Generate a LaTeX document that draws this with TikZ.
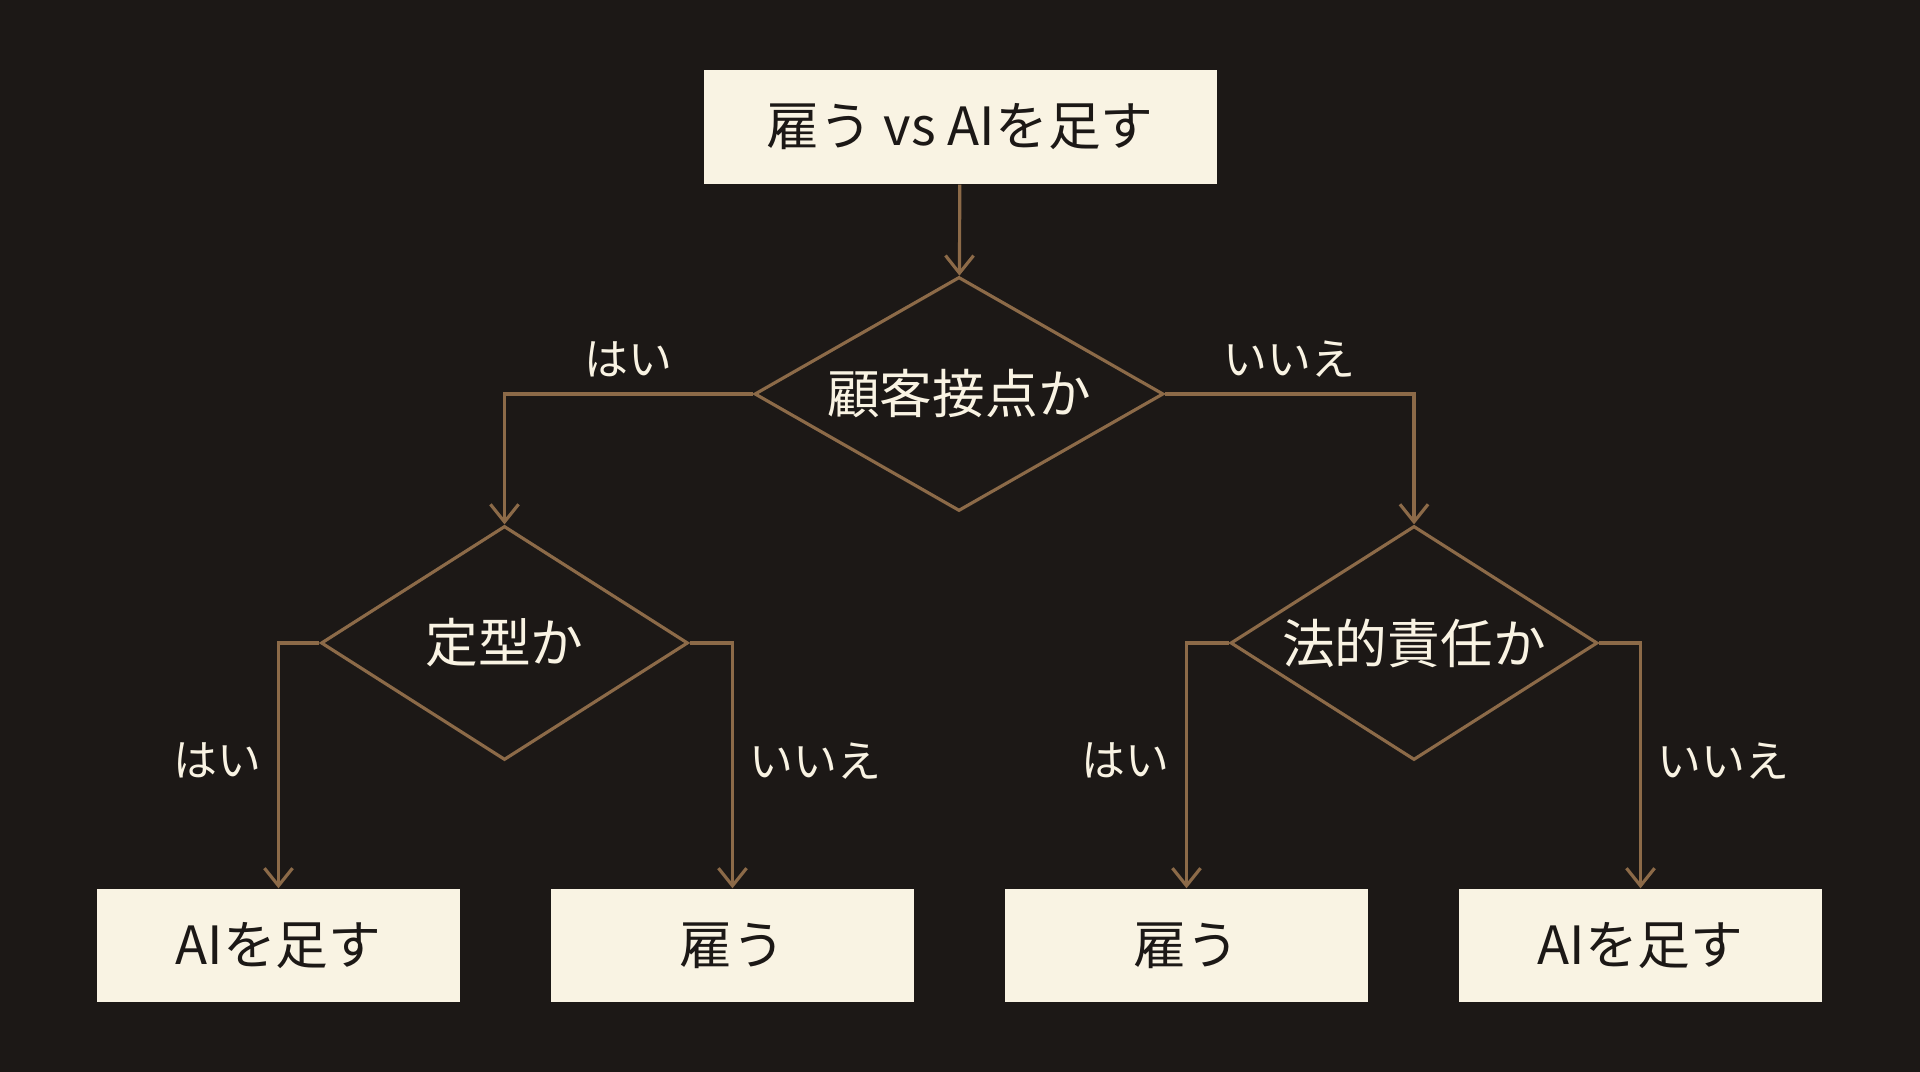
\documentclass[tikz,border=0pt]{standalone}
\usepackage{fontspec}
\setmainfont{Noto Sans CJK JP}
\usetikzlibrary{shapes.geometric,arrows.meta,positioning}
\definecolor{bgdark}{HTML}{1C1816}
\definecolor{cream}{HTML}{F9F3E3}
\definecolor{linebrown}{HTML}{8C6A48}
\tikzset
{
    answer/.style   = {rectangle, fill=cream, text=bgdark, minimum width=3.63cm, minimum height=1.13cm, align=center, font=\fontsize{15pt}{18pt}\selectfont},
    title/.style    = {answer, minimum width=5.13cm, minimum height=1.14cm},
    question/.style = {diamond, draw=linebrown, line width=0.9pt, inner sep=0pt, shape aspect=1.57, minimum width=3.67cm, minimum height=2.34cm, text=cream, align=center, font=\fontsize{15pt}{18pt}\selectfont},
    arrow/.style    = {draw=linebrown, line width=0.9pt, -{Straight Barb[length=5pt,width=8pt]}},
    choice/.style   = {text=cream, font=\fontsize{12.5pt}{15pt}\selectfont}
}

\begin{document}
\begin{tikzpicture}
\fill[bgdark] (0,0) rectangle (19.2,10.72);
\useasboundingbox (0,0) rectangle (19.2,10.72);
\node(top) [title] at (9.6, 9.45) {雇う vs AIを足す};
\node(q) [question, minimum width=4.09cm] at (9.59, 6.78) {顧客接点か};
\node(ql) [question] at (5.045, 4.29) {定型か};
\node(qr) [question] at (14.14, 4.29) {法的責任か};
\node(all) [answer] at (2.785, 1.265) {AIを足す};
\node(alr) [answer] at (7.325, 1.265) {雇う};
\node(arl) [answer] at (11.865, 1.265) {雇う};
\node(arr) [answer] at (16.405, 1.265) {AIを足す};
\draw[arrow] (top) -- (q);
\draw[arrow] (q.west) -| node[choice, pos=0.25, above=1pt] {はい} (ql.north);
\draw[arrow] (q.east) -| node[choice, pos=0.25, above=1pt] {いいえ} (qr.north);
\draw[arrow] (ql.west) -| node[choice, pos=0.74, left=1pt] {はい} (all.north);
\draw[arrow] (ql.east) -| node[choice, pos=0.74, right=1pt] {いいえ} (alr.north);
\draw[arrow] (qr.west) -| node[choice, pos=0.74, left=1pt] {はい} (arl.north);
\draw[arrow] (qr.east) -| node[choice, pos=0.74, right=1pt] {いいえ} (arr.north);
\end{tikzpicture}
\end{document}
